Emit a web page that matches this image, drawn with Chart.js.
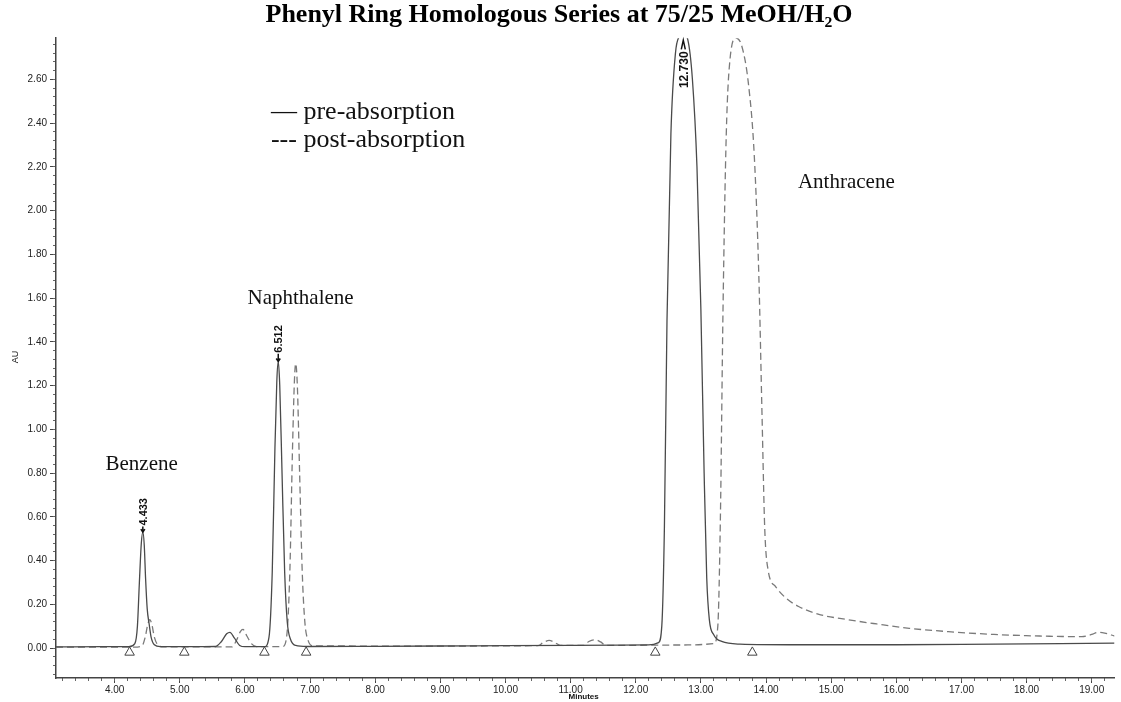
<!DOCTYPE html>
<html><head><meta charset="utf-8">
<script src="https://cdn.jsdelivr.net/npm/chart.js@4"></script>
<style>html,body{margin:0;padding:0;background:#fff}#wrap{width:1121px;height:702px}</style>
</head><body><div id="wrap"><canvas id="c" width="1121" height="702"></canvas></div>
<script>
// ---- data ----
const preX = [3.10,3.80,4.22,4.31,4.35,4.38,4.41,4.433,4.455,4.475,4.50,4.53,4.56,4.61,4.70,5.10,5.55,5.64,5.72,5.77,5.84,5.92,6.00,6.30,6.37,6.42,6.46,6.49,6.512,6.535,6.57,6.61,6.65,6.70,6.78,6.95,8.00,9.50,11.00,12.20,12.35,12.40,12.44,12.48,12.54,12.61,12.68,12.73,12.80,12.87,12.94,13.00,13.05,13.09,13.13,13.20,13.32,13.60,14.50,16.00,17.50,19.35];
const preY = [0.005,0.006,0.006,0.02,0.10,0.30,0.48,0.53,0.47,0.32,0.18,0.11,0.05,0.015,0.006,0.006,0.007,0.03,0.065,0.072,0.045,0.012,0.006,0.006,0.05,0.35,0.90,1.22,1.31,1.20,0.80,0.35,0.12,0.04,0.012,0.007,0.008,0.010,0.012,0.014,0.025,0.10,0.55,1.50,2.35,2.72,2.80,2.81,2.78,2.60,2.20,1.55,0.80,0.32,0.13,0.06,0.03,0.018,0.015,0.015,0.018,0.022];
const postX = [3.10,4.30,4.42,4.47,4.51,4.54,4.57,4.61,4.66,4.75,5.80,5.87,5.93,5.97,6.03,6.10,6.18,6.58,6.64,6.69,6.73,6.76,6.78,6.805,6.84,6.88,6.92,6.97,7.05,8.50,10.50,10.58,10.67,10.76,10.84,11.20,11.28,11.37,11.46,11.54,12.80,13.20,13.26,13.30,13.34,13.39,13.45,13.54,13.63,13.73,13.82,13.89,13.94,13.98,14.03,14.15,14.30,14.50,14.80,15.25,15.70,16.20,16.80,17.50,18.20,18.85,19.00,19.10,19.20,19.35];
const postY = [0.004,0.004,0.01,0.05,0.11,0.13,0.11,0.05,0.015,0.005,0.005,0.035,0.075,0.085,0.055,0.02,0.006,0.007,0.05,0.35,0.90,1.22,1.30,1.20,0.80,0.35,0.12,0.035,0.01,0.009,0.011,0.025,0.035,0.025,0.012,0.012,0.03,0.038,0.028,0.012,0.014,0.02,0.10,0.60,1.55,2.35,2.70,2.79,2.75,2.58,2.25,1.70,1.05,0.55,0.36,0.28,0.23,0.19,0.155,0.13,0.11,0.09,0.075,0.062,0.055,0.052,0.062,0.072,0.068,0.055];
const markerX = [4.23,5.07,6.30,6.94,12.30,13.79];
const markerY = [-0.02,-0.02,-0.02,-0.02,-0.02,-0.02];
const peakLabels = ['4.433','6.512','12.730'];
const peakX = [4.433,6.512,12.73];
const peakTopY = [0.53,1.31,2.80];
const peakTextY = [0.56,1.35,2.56];
const compoundNames = ['Benzene','Naphthalene','Anthracene'];
const compoundX = [3.86,6.04,14.49];
const compoundY = [0.84,1.60,2.13];
const legendLabels = ['\u2014 pre-absorption','--- post-absorption'];
const legendX = [6.40,6.40];
const legendY = [2.45,2.32];
const xTicks = [4,5,6,7,8,9,10,11,12,13,14,15,16,17,18,19];
const yTicks = [0,0.2,0.4,0.6,0.8,1.0,1.2,1.4,1.6,1.8,2.0,2.2,2.4,2.6];
const X_MIN = 3.10, X_MAX = 19.35, Y_MIN = -0.137, Y_MAX = 2.788;

const toPts = (xs, ys) => xs.map((x, i) => ({x: x, y: ys[i]}));

const annot = {
  id: 'annot',
  afterDatasetsDraw(chart) {
    const ctx = chart.ctx, xs = chart.scales.x, ys = chart.scales.y;
    ctx.save();
    ctx.fillStyle = '#111';
    // compound names
    ctx.font = '21px "Liberation Serif"';
    ctx.textAlign = 'left'; ctx.textBaseline = 'middle';
    compoundNames.forEach((t, i) => ctx.fillText(t, xs.getPixelForValue(compoundX[i]), ys.getPixelForValue(compoundY[i])));
    // legend text
    ctx.font = '26px "Liberation Serif"';
    legendLabels.forEach((t, i) => ctx.fillText(t, xs.getPixelForValue(legendX[i]), ys.getPixelForValue(legendY[i])));
    // peak retention-time labels (rotated)
    ctx.strokeStyle = '#111'; ctx.lineWidth = 1.5;
    peakLabels.forEach((t, i) => {
      const px = xs.getPixelForValue(peakX[i]);
      const pyText = ys.getPixelForValue(peakTextY[i]);
      const pyTop = ys.getPixelForValue(peakTopY[i]);
      ctx.font = 'bold ' + (i === 2 ? 12 : 11) + 'px "Liberation Sans"';
      const w = ctx.measureText(t).width;
      ctx.save();
      ctx.translate(px + 1, pyText);
      ctx.rotate(-Math.PI / 2);
      ctx.textAlign = 'left'; ctx.textBaseline = 'middle';
      ctx.fillText(t, 0, 0);
      ctx.restore();
      // arrow
      ctx.beginPath();
      if (pyTop > pyText) { // peak below text
        ctx.moveTo(px, pyText + 1); ctx.lineTo(px, pyTop);
        ctx.moveTo(px - 2, pyTop - 3); ctx.lineTo(px, pyTop); ctx.lineTo(px + 2, pyTop - 3);
      } else {
        const yEnd = pyText - w - 2, yT = Math.max(pyTop, chart.chartArea.top + 2);
        ctx.moveTo(px - 2, yEnd); ctx.lineTo(px, yT); ctx.lineTo(px + 2, yEnd);
      }
      ctx.stroke();
    });
    // axis names
    ctx.font = '9px "Liberation Sans"';
    ctx.save();
    ctx.translate(16, ys.getPixelForValue(1.33));
    ctx.rotate(-Math.PI / 2);
    ctx.textAlign = 'center'; ctx.textBaseline = 'middle';
    ctx.fillText('AU', 0, 0);
    ctx.restore();
    ctx.font = 'bold 8px "Liberation Sans"';
    ctx.textAlign = 'center'; ctx.textBaseline = 'middle';
    ctx.fillText('Minutes', xs.getPixelForValue(11.2), 697);
    ctx.restore();
  }
};

Chart.defaults.font.family = '"Liberation Sans", Arial, sans-serif';
new Chart(document.getElementById('c'), {
  type: 'line',
  data: {
    datasets: [
      {label: 'markers', data: toPts(markerX, markerY), showLine: false, pointStyle: 'triangle', pointRadius: 5.5,
       pointBackgroundColor: '#fff', pointBorderColor: '#444', pointBorderWidth: 1, order: 0},
      {label: 'pre-absorption', data: toPts(preX, preY), borderColor: '#4a4a4a', borderWidth: 1.3, pointRadius: 0,
       cubicInterpolationMode: 'monotone', order: 1},
      {label: 'post-absorption', data: toPts(postX, postY), borderColor: '#7a7a7a', borderWidth: 1.3, borderDash: [7, 4], pointRadius: 0,
       cubicInterpolationMode: 'monotone', order: 2}
    ]
  },
  options: {
    responsive: false, animation: false, devicePixelRatio: 1,
    layout: {padding: {left: 0, right: 3, top: 0, bottom: 0}},
    plugins: {
      legend: {display: false}, tooltip: {enabled: false},
      title: {display: true, text: 'Phenyl Ring Homologous Series at 75/25 MeOH/H\u2082O', color: '#000',
        font: {family: '"Liberation Serif", "DejaVu Serif", serif', size: 26, weight: 'bold'}, padding: {top: 0, bottom: 7}}
    },
    scales: {
      x: {type: 'linear', min: X_MIN, max: X_MAX, weight: 1,
        afterBuildTicks: s => { s.ticks = xTicks.map(v => ({value: v})); },
        afterFit: s => { s.height = 24; },
        ticks: {autoSkip: false, maxRotation: 0, color: '#222', font: {size: 10}, padding: 1, callback: v => Number(v).toFixed(2)},
        grid: {drawOnChartArea: false, tickLength: 5, color: '#444', tickWidth: 1},
        border: {display: true, color: '#444', width: 1.5}},
      xMinor: {type: 'linear', position: 'bottom', min: X_MIN, max: X_MAX, weight: 0,
        afterFit: s => { s.height = 0; },
        ticks: {display: false, stepSize: 0.2, includeBounds: false},
        grid: {drawOnChartArea: false, tickLength: 3, color: '#666', tickWidth: 1},
        border: {display: false}},
      y: {type: 'linear', position: 'left', min: Y_MIN, max: Y_MAX, weight: 1,
        afterBuildTicks: s => { s.ticks = yTicks.map(v => ({value: v})); },
        afterFit: s => { s.width = 56; },
        ticks: {autoSkip: false, color: '#222', font: {size: 10}, padding: 3, callback: v => Number(v).toFixed(2)},
        grid: {drawOnChartArea: false, tickLength: 6, color: '#444', tickWidth: 1},
        border: {display: true, color: '#444', width: 1.5}},
      yMinor: {type: 'linear', position: 'left', min: Y_MIN, max: Y_MAX, weight: 0,
        afterFit: s => { s.width = 0; },
        ticks: {display: false, stepSize: 0.04, includeBounds: false},
        grid: {drawOnChartArea: false, tickLength: 3, color: '#666', tickWidth: 1},
        border: {display: false}}
    }
  },
  plugins: [annot]
});
</script>
</body></html>
